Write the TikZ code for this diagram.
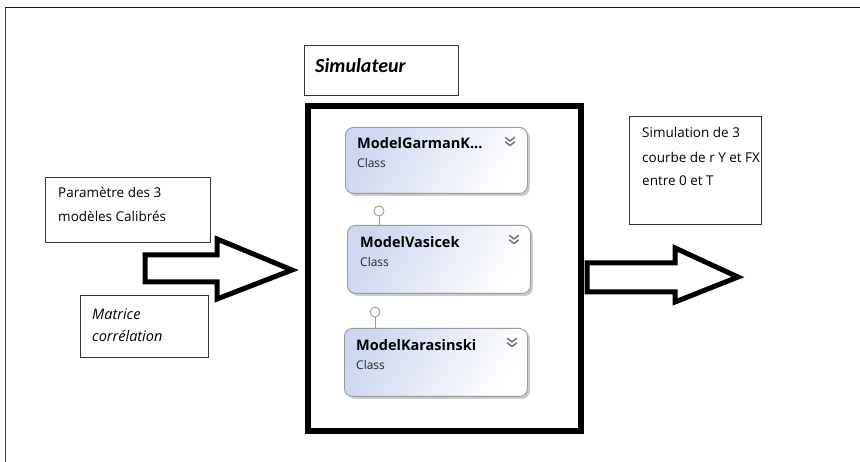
\documentclass[tikz,border=0pt]{standalone}
\usepackage{fontspec}
\setmainfont{Open Sans}
\newfontfamily\calib{Carlito}
\usetikzlibrary{shadows}
\definecolor{classblue}{HTML}{CDD7F0}
\definecolor{classedge}{HTML}{9A9A9A}
\tikzset{
  x=1pt, y=-1pt,
  textbox/.style={draw=black!80, line width=0.8pt, anchor=north west, inner sep=0pt},
  classbox/.style={draw=classedge, line width=0.9pt, rounded corners=8pt, anchor=north west,
    inner sep=0pt, left color=classblue, right color=white, shading angle=60,
    drop shadow={shadow xshift=2.5pt, shadow yshift=-2.5pt, fill=black, opacity=0.2}},
  classtitle/.style={anchor=base west, inner sep=0pt, font=\fontsize{14.5}{16}\selectfont\bfseries},
  classkind/.style={anchor=base west, inner sep=0pt, font=\fontsize{12}{14}\selectfont, text=black!85},
  plaintext/.style={anchor=base west, inner sep=0pt, font=\fontsize{13.5}{16}\selectfont},
  slanttext/.style={anchor=base west, inner sep=0pt, font=\fontsize{14.5}{16}\selectfont\itshape},
  blockarrow/.style={draw=black, line width=5pt, line join=miter, fill=white},
  lollipop/.style={circle, draw=classedge, line width=0.9pt, fill=white, minimum size=10pt, inner sep=0pt},
  chevron/.style={draw=black!55, line width=1.5pt, line cap=round, line join=round}
}
\newcommand{\chev}[2]{%
  \draw[chevron] (#1-4.5,#2-4.5) -- (#1,#2-1) -- (#1+4.5,#2-4.5);
  \draw[chevron] (#1-4.5,#2) -- (#1,#2+3.5) -- (#1+4.5,#2);}
\begin{document}
\begin{tikzpicture}
\useasboundingbox (0,0) rectangle (860,462);
\fill[white] (0,0) rectangle (860,462);

% outer frame (top and left edges)
\draw[black!75, line width=1pt] (5.5,462) -- (5.5,8);
\draw[black!90, line width=1pt] (5,8) -- (860,8);

% title box
\node[textbox, minimum width=154pt, minimum height=50pt] (titlebox) at (304,45) {};
\node[anchor=base west, inner sep=0pt, font=\calib\fontsize{20}{24}\selectfont\bfseries\itshape] (title) at (315,73) {Simulateur};

% simulator frame
\node[draw=black, line width=6pt, anchor=north west, minimum width=273pt, minimum height=324.5pt, inner sep=0pt] (sim) at (305,103.5) {};

% class boxes
\node[classbox, minimum width=182pt, minimum height=66pt] (garman) at (345,127) {};
\node[classtitle] (garmanT) at (357,149) {ModelGarmanK...};
\node[classkind] (garmanK) at (357,168) {Class};
\chev{510}{142}

\node[classbox, minimum width=183pt, minimum height=68pt] (vasicek) at (347,225) {};
\node[classtitle] (vasicekT) at (360,248) {ModelVasicek};
\node[classkind] (vasicekK) at (360,267) {Class};
\chev{514}{240}

\node[classbox, minimum width=183pt, minimum height=68pt] (kara) at (344,328) {};
\node[classtitle] (karaT) at (356,351) {ModelKarasinski};
\node[classkind] (karaK) at (356,370) {Class};
\chev{512}{343}

% interface lollipops
\node[lollipop] (lolA) at (379,211) {};
\draw[classedge, line width=0.9pt] (lolA.south) -- (lolA.south |- vasicek.north);
\node[lollipop] (lolB) at (375,312) {};
\draw[classedge, line width=0.9pt] (lolB.south) -- (lolB.south |- kara.north);

% inputs
\node[textbox, minimum width=165pt, minimum height=65pt] (params) at (45,177) {};
\node[plaintext] (paramsA) at (58,198) {Paramètre des 3};
\node[plaintext] (paramsB) at (58,222) {modèles Calibrés};

\node[textbox, minimum width=128pt, minimum height=62pt] (matrix) at (80,295) {};
\node[slanttext] (matrixA) at (92,320) {Matrice};
\node[slanttext] (matrixB) at (92,342) {corrélation};

% output
\node[textbox, minimum width=132pt, minimum height=108pt] (output) at (629,116) {};
\node[plaintext] (outA) at (642,138) {Simulation de 3};
\node[plaintext] (outB) at (642,163) {courbe de r Y et FX};
\node[plaintext] (outC) at (642,186) {entre 0 et T};

% block arrows
\draw[blockarrow] (145,255) -- (217,255) -- (217,239) -- (292,270) -- (217,299) -- (217,282) -- (145,282) -- cycle;
\draw[blockarrow] (587,263) -- (675,263) -- (675,248) -- (738,277) -- (675,302) -- (675,292) -- (587,292) -- cycle;
\end{tikzpicture}
\end{document}
